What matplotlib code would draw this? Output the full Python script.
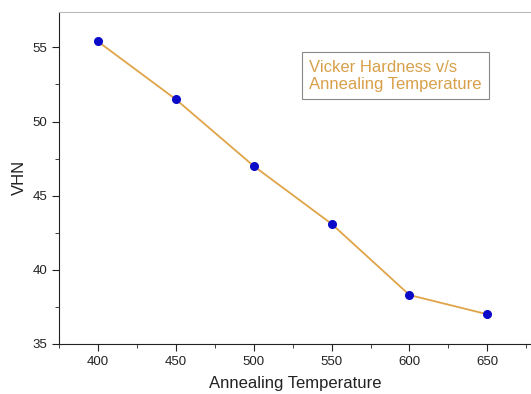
import matplotlib
matplotlib.use('Agg')
import matplotlib.pyplot as plt
from matplotlib.ticker import MultipleLocator

temperature = [400, 450, 500, 550, 600, 650]
vhn = [55.4, 51.5, 47.0, 43.1, 38.3, 37.0]

plt.rcParams['font.family'] = ['Liberation Sans', 'DejaVu Sans']

fig = plt.figure(figsize=(5.31, 3.94), dpi=100)
ax = fig.add_axes([0.111, 0.127, 0.889, 0.843])

ax.plot(temperature, vhn, color='#e0a448', linewidth=1.3, zorder=2)
ax.plot(temperature, vhn, 'o', color='#0a0ac8', markersize=5.5, zorder=3)

ax.set_xlim(375, 678)
ax.set_ylim(35, 57.4)
ax.xaxis.set_major_locator(MultipleLocator(50))
ax.xaxis.set_minor_locator(MultipleLocator(25))
ax.yaxis.set_major_locator(MultipleLocator(5))
ax.yaxis.set_minor_locator(MultipleLocator(2.5))
ax.tick_params(which='both', direction='out', labelsize=9.5, colors='#222222')
ax.tick_params(which='major', length=5)
ax.tick_params(which='minor', length=3)

ax.spines['top'].set_color('#bbbbbb')
ax.spines['right'].set_visible(False)
ax.spines['left'].set_color('#222222')
ax.spines['bottom'].set_color('#222222')

ax.set_xlabel('Annealing Temperature', fontsize=12, color='#222222', labelpad=6)
ax.set_ylabel('VHN', fontsize=12, color='#222222', labelpad=4)

ax.text(0.53, 0.855, 'Vicker Hardness v/s\nAnnealing Temperature', transform=ax.transAxes,
        fontsize=12, color='#d8a04a', va='top', ha='left', linespacing=1.15,
        bbox=dict(facecolor='white', edgecolor='#888888', boxstyle='square,pad=0.45', linewidth=0.8))

plt.savefig('out.png', dpi=100)
